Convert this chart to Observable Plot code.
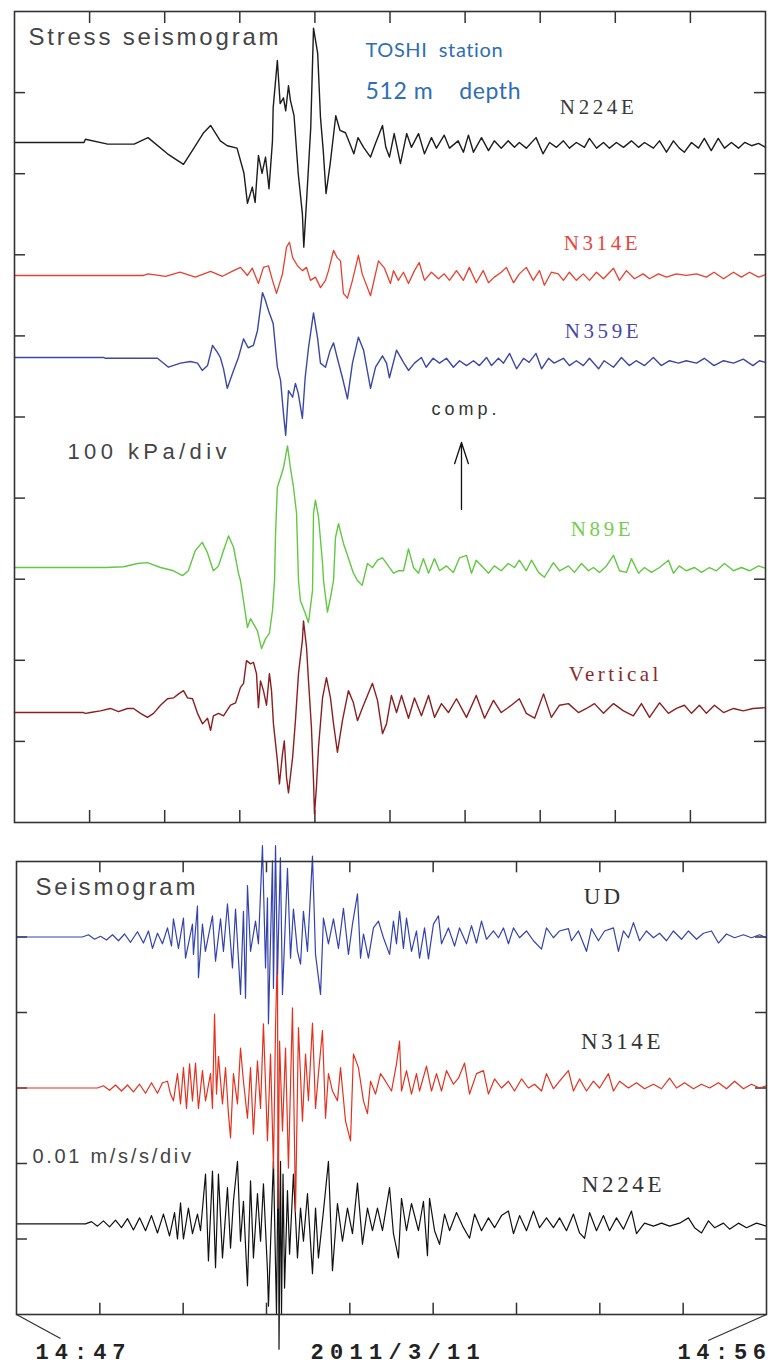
<!DOCTYPE html>
<html><head><meta charset="utf-8">
<script src="https://cdn.jsdelivr.net/npm/d3@7"></script>
<script src="https://cdn.jsdelivr.net/npm/@observablehq/plot@0.6"></script>
<style>
html,body{margin:0;padding:0;background:#fff;}
#wrap{position:relative;width:772px;height:1367px;overflow:hidden;background:#fff;}
#wrap svg{position:absolute;left:0;overflow:visible;}
</style></head><body><div id="wrap"></div>
<script>
// ---- Stress seismograms, TOSHI station 512 m depth: [seconds after 14:47, kPa]
const stressN224E = [[0,0],[50,0],[51,4],[67,-2],[86,-2],[96,6],[110,-14],[121.5,-27],[129,-7],[136,12],[141,21],[148,2],[153,-4],[160,-7],[165,-38],[167.5,-75],[171,-55],[173,-74],[175.4,-16],[178,-38],[180.5,-18],[183,-57],[185.5,2],[186,43],[189,101],[191,48],[193.4,55],[195,39],[197,70],[198.4,52],[201,33],[204,-38],[207,-88],[208,-129],[210,-72],[213,18],[215,141],[218,110],[220,31],[222,-10],[224,-63],[227,-26],[231,33],[234,15],[238,12],[244,-14],[247,6],[251,-6],[256,-18],[259.6,-1],[264.6,21],[267,-6],[269.6,-18],[273,11],[277.5,-26],[282,11],[285.4,-6],[290.5,11],[294.8,-14],[299.8,6],[303.4,-7],[309,9],[312.8,-7],[319,2],[322.8,-12],[326.4,9],[330,-12],[335.8,6],[340.8,-10],[345,2],[350,-7],[355,2],[359.5,-6],[363,0],[368,-7],[375,6],[380,-14],[384.7,0],[389.7,-6],[394.7,2],[399,-7],[404,0],[409.8,-6],[413.4,5],[418.5,-7],[423.5,0],[427.8,-7],[432.8,0],[437.9,-6],[443.6,2],[448.7,-6],[453,0],[459.4,-7],[463.8,2],[468.8,-12],[473.8,2],[478,-7],[481.7,-12],[486.8,0],[491.8,-7],[496,5],[501,-10],[506,5],[510.5,-7],[515.5,0],[520.6,-7],[525,0],[530,-4],[535,-1],[540,-6]];
const stressN314E = [[0,0],[92.8,0],[96,2],[108.6,-1],[119,4],[130,-2],[141,5],[149.5,-1],[157.5,6],[162.5,10],[167.5,0],[171,9],[175.4,-10],[179,10],[182.6,12],[185.5,-6],[188.4,-22],[192.7,2],[195.6,35],[197.7,41],[200,22],[203.5,12],[207,6],[210,10],[212.8,-6],[216.4,-2],[220,-15],[223.6,-6],[225.8,6],[229.4,31],[232,22],[234.4,18],[236.5,-22],[239.4,-28],[243,-6],[247.3,25],[250,2],[256,-25],[261.7,18],[266,9],[270.3,-10],[272.5,6],[276,-6],[279.7,4],[283.3,-10],[287.6,6],[291,16],[294.8,-6],[299.8,4],[304.9,-4],[309,2],[312.8,-6],[317.8,6],[322.8,-6],[327,10],[332,-9],[337,6],[340.8,-9],[345,-2],[350,4],[353.7,10],[358.8,-9],[363,2],[368,10],[373,-6],[377.5,6],[381,-12],[386,4],[391,2],[394.7,-6],[399,4],[404,-6],[409,2],[413.4,-6],[418.5,4],[423.5,-4],[430.7,9],[435,-6],[440,6],[445.8,-4],[452,2],[456.6,-4],[463,2],[468.8,-2],[476,2],[483,0],[490.4,2],[497.5,-2],[503,4],[509.8,-4],[517,4],[522.7,-2],[528.5,4],[535,-2],[540,1]];
const stressN359E = [[0,0],[64,0],[65.4,-1],[102.8,-1],[110.7,-12],[119.4,-7],[126.5,-5],[131.6,-7],[135,-16],[138.8,-10],[142.4,15],[146,6],[148,0],[150.3,-14],[153,-38],[157.5,-16],[161,0],[164.7,23],[168,12],[171.8,15],[174.7,33],[178.3,80],[180.5,70],[182.6,58],[186,42],[189,-12],[191.3,-28],[193.4,-69],[195,-96],[197,-41],[200,-49],[202,-32],[204,-44],[207,-75],[209,-25],[211.4,12],[215,55],[218,23],[220,-7],[223.6,-12],[227,9],[229.4,18],[232,0],[235.8,-25],[239.4,-51],[243,-7],[247.3,25],[251,9],[256,-38],[259.6,-12],[264.6,2],[267.5,-7],[269.6,-25],[274.7,9],[279.7,-6],[283.3,-16],[287.6,-7],[292.6,0],[296,-12],[301,-1],[305.6,-7],[310.6,-1],[315.6,-12],[320,-4],[325,-10],[330,-4],[334.3,-10],[339.4,0],[343,-10],[348,-1],[351.6,-7],[356,5],[361,-14],[366,-1],[370,-6],[375,5],[379,-14],[384,-1],[388,-7],[394.7,-1],[399,-10],[404,-4],[409,-10],[413.4,-1],[420,-14],[424,-4],[430.7,-12],[436.4,0],[442,-10],[447,-4],[453,-10],[459.4,0],[465,-10],[471,-4],[477.4,-7],[483,-4],[490.4,-7],[496,-1],[503,-10],[509.8,-4],[517,-7],[524,-2],[531,-10],[535.6,-4],[540,-6]];
const stressN89E = [[0,0],[65.4,0],[78.4,1],[88.4,5],[95.6,6],[105,0],[114.3,-4],[120.8,-10],[125,-4],[130,21],[135,31],[138.8,18],[143,-4],[146.7,2],[150.3,21],[153.9,39],[157.5,25],[161,-7],[162.5,-16],[167.5,-74],[169.7,-63],[174.7,-78],[177.6,-100],[180.5,-88],[183.3,-81],[185.5,-53],[187,-16],[187.7,42],[189,99],[191.3,111],[193.4,123],[196.3,150],[198.4,123],[200.6,99],[202.8,67],[204.2,-16],[205.6,-41],[209.2,-57],[211.4,-68],[214.3,-28],[215,67],[216.4,83],[218.6,62],[221.5,5],[222.2,-16],[225,-55],[227.2,-37],[229.4,-16],[230.8,37],[233,54],[236.5,30],[240,12],[243.7,-7],[246.6,-16],[250,-22],[253.8,5],[257.4,0],[261,9],[264.6,12],[267.5,5],[272.5,-7],[276,-4],[279.7,-4],[283.3,23],[286.9,0],[290.5,-7],[294,11],[297.7,-7],[302,11],[305.6,-4],[310.6,2],[315.6,-6],[320,12],[325,15],[328.6,-7],[332,9],[337,0],[340.8,-7],[345,2],[350,-4],[355,5],[359.5,0],[363,9],[368,-4],[371.7,9],[376.8,-6],[381,-12],[387.5,6],[391.9,-4],[398.3,2],[402.6,-6],[407.7,5],[412.7,-4],[416.3,0],[420.6,-6],[425.6,2],[430.7,15],[435,-4],[440,-6],[443.6,11],[448.7,-7],[453,0],[458,-6],[463.8,0],[470.2,9],[473.8,-7],[478,2],[483,-4],[489,0],[494,-6],[499.7,0],[504.7,-4],[510.5,5],[517,-4],[522.7,0],[528.5,-4],[535,2],[540,-1]];
const stressVertical = [[0,0],[49.6,0],[51,-1],[54.6,0],[61.8,2],[69,5],[74.8,1],[81.2,5],[85.6,5],[90.6,-1],[95.6,-6],[100,-1],[105,9],[110,17],[114.3,18],[118,23],[121.5,27],[124.4,18],[128,17],[131.6,-1],[135.2,-14],[138.8,-7],[141,-22],[143,-4],[146.7,-1],[150.3,-4],[155.3,9],[159,12],[162.5,31],[164.7,36],[166.8,64],[169.7,60],[171.8,62],[174,48],[175.4,6],[176.9,39],[179,27],[181.2,9],[183.3,48],[184.8,27],[186.2,-14],[189,-59],[190.5,-88],[192.7,-51],[194,-35],[195.6,-80],[197,-99],[200,-55],[202,-10],[204.2,48],[207,89],[207.8,113],[210,80],[211.4,39],[213.5,-18],[215,-84],[215.7,-125],[217.1,-92],[218.6,-43],[221.5,18],[224.3,43],[227.2,18],[229.4,-14],[232.2,-49],[235.8,-10],[240.1,27],[243.7,12],[246.6,-10],[250.2,6],[253.8,21],[257.4,36],[261,15],[264.6,-26],[267.5,-14],[271,21],[274.7,0],[278.3,21],[283.3,-7],[287.6,18],[292.6,-4],[297.7,21],[302,-6],[307,11],[312,0],[317.8,17],[325,-6],[332,21],[338,-7],[344.4,15],[350,0],[357.3,9],[363,17],[368,-1],[374,-7],[380.4,23],[386,-6],[391.9,9],[398.3,11],[405.5,0],[411.3,5],[417,11],[423.5,-1],[430.7,11],[437.9,2],[445,-4],[450.8,11],[456.6,-6],[463.8,12],[470.2,-1],[476,5],[481.7,9],[486.8,-1],[492.5,9],[497.5,-1],[503.3,9],[509.8,0],[517,5],[524,2],[531,5],[540,6]];

// ---- Acceleration seismograms: [seconds after 14:47, mm/s^2]
const accUD = [[0,0],[47.5,0],[51.8,0.3],[56.2,-0.3],[60.5,0.1],[64.8,-0.4],[69.1,0.3],[73.4,-0.5],[77.8,0.4],[82.1,-0.7],[87.1,0.7],[91.4,-0.8],[95,0.8],[97.9,-1.5],[101.5,0.5],[105.1,-0.9],[108.7,1.2],[111.6,-1.2],[113,2.4],[116.6,-1.5],[120.2,2.5],[121.7,-2.8],[126.7,1.7],[127.4,-2.3],[130.3,4.1],[131,-5.4],[133.9,1.7],[136,-1.9],[141.1,2.8],[143.3,-3.2],[146.9,2.4],[149,-1.9],[151.9,4.4],[155.5,-4.1],[157.7,3.7],[161.3,-7.6],[163.4,3.4],[164.9,-8.1],[166.3,6.8],[168.5,-1.9],[172.1,2.1],[174.2,-0.9],[177.1,12.1],[179.3,-4.1],[180.7,5.2],[181.4,-11.5],[184.3,10.1],[185,-6.8],[186.5,12.1],[187.9,-4.9],[190,10.5],[191.5,-7.6],[195.1,9.1],[197.3,-2.8],[199.4,3.7],[202.3,-1.9],[204.5,-3.6],[206.6,3.4],[209.5,-1.9],[213.1,10.7],[215.3,-2.3],[218.9,-7.6],[221,2.5],[224.6,-0.9],[228.2,2.4],[231.8,-1.5],[235.4,3.8],[239,-2.3],[241.9,1.7],[245.5,5.7],[247.7,-2.8],[249.8,0.4],[253.4,-2.8],[257,1.2],[260.6,2.1],[264.2,-0.1],[268.6,-2.3],[271.4,2.1],[273.6,-0.9],[275.8,3.4],[278.6,-1.5],[280.8,2.5],[284.4,-1.9],[288,0.8],[290.2,-2.8],[293.8,1.2],[296.6,-2.9],[300.2,1.7],[303.8,2.8],[306,-0.9],[311,1.2],[315.4,-1.2],[319,1.2],[324,-0.9],[327.6,1.5],[331.2,-0.8],[334.8,2.1],[338.4,-0.3],[343.4,0.8],[347,-0.1],[350.6,1.2],[354.2,-0.9],[357.8,1.2],[362.2,-0.1],[367.2,0.8],[372.2,-0.5],[378,-1.6],[381.6,1.2],[386.6,-0.1],[391,0.8],[397.4,1.1],[399.6,-0.5],[404.6,0.8],[410.4,-1.9],[414,1.1],[419,-0.5],[423.4,0.8],[429.8,1.2],[433.4,-1.9],[437,0.8],[440.6,-0.1],[444.2,1.9],[448.6,-0.5],[453.6,0.8],[458.6,-0.1],[463,0.5],[468,-0.5],[473,0.8],[478.8,-0.3],[483.8,0.8],[489.6,-0.3],[494.6,0.5],[500.4,0.8],[505.4,-0.8],[511.2,0.4],[517,-0.1],[523.4,0.3],[529.2,-0.1],[535,0.3],[540,-0.1]];
const accN314E = [[0,0],[58.3,0],[62.6,0.3],[67,-0.3],[71.3,0.4],[75.6,-0.4],[79.9,0.4],[84.2,-0.5],[88.6,0.5],[92.9,-0.7],[97.2,0.7],[101.5,-0.7],[105.1,0.7],[108.7,0.9],[110.9,-0.8],[113,-1.7],[115.9,1.9],[118.1,-2.1],[120.2,2.7],[122.4,-2.7],[124.6,3.2],[126.7,-1.7],[128.9,3.3],[131,-2.7],[133.9,2.3],[136.1,-1.7],[139.7,1.9],[141.1,-2.7],[142.6,9.8],[144,-0.8],[145.4,4.2],[148.3,-2.1],[150.5,2.7],[152.6,-3.4],[154.1,-6.6],[156.2,1.9],[159.1,-2.1],[161.3,5.3],[163.4,0.9],[166.3,-4],[168.5,2.7],[170.6,-6.1],[173.5,3.6],[175.7,-2.7],[177.8,8.5],[180.7,-7],[182.9,4.5],[185,-10.6],[186.5,8],[187.9,18.8],[188.3,-15.9],[189.4,6.2],[191.5,-5.7],[193.7,5.3],[195.8,-10.6],[198.7,10.6],[200.9,-16.3],[203,8],[205.9,-4.4],[208.1,4.5],[210.2,-1.7],[213.1,8.6],[215.3,-2.7],[217.4,1.9],[220.3,7.6],[222.5,-4],[224.6,1.9],[227.5,-0.4],[231.1,-1.7],[233.3,2.7],[236.9,-4.4],[240.5,-7],[242.6,4.5],[246.2,2.7],[249.8,-1.7],[252.7,-3.4],[254.9,0.9],[258.5,-0.8],[262.1,1.9],[265.7,0.9],[270,-0.4],[273.6,3.2],[275.8,6.2],[277.2,-0.4],[280.8,2.3],[284.4,-0.8],[288,1.9],[290.2,-0.4],[295.2,2.9],[298.8,-0.4],[302.4,1.9],[306,-0.4],[309.6,2.3],[314.6,0.5],[318.2,1.3],[322.6,3.3],[326.2,-0.8],[331.2,1.9],[336.2,2.3],[339.8,-0.8],[344.2,1.2],[349.2,0],[354.2,0.9],[358.6,-0.4],[363.6,1.2],[368.6,0],[373,0.5],[378,-0.4],[381.6,1.9],[386.6,-0.1],[391,0.9],[397.4,2.3],[401,-0.4],[405.4,1.2],[410.4,-0.4],[415.4,0.9],[419.8,0],[426.2,1.9],[429.8,-0.4],[434.2,0.9],[440.6,0],[446.4,0.7],[452.2,-0.1],[458.6,0.5],[464.4,-0.1],[470.2,1.3],[475.2,0],[481,0.7],[487.4,-0.1],[493.2,0.5],[499,0],[505.4,0.7],[511.2,-0.1],[517,0.9],[523.4,-0.1],[529.2,0.5],[535,0],[540,0.3]];
const accN224E = [[0,0],[49.7,0],[54,0.3],[58.3,-0.3],[62.6,0.4],[67,-0.4],[71.3,0.5],[75.6,-0.5],[79.9,0.7],[84.2,-0.8],[88.6,0.8],[92.9,-0.9],[97.2,1.1],[101.5,-1.2],[105.8,1.3],[110.2,-1.6],[113.8,1.5],[115.9,-2],[118.1,2.8],[120.2,-2],[123.8,2.1],[126.7,-1.3],[130.3,1.3],[132.5,-0.9],[136.1,6.6],[138.2,-4.9],[141.1,7],[143.3,-5.8],[145.4,6.6],[148.3,-4.5],[151.9,4.8],[154.1,-3.2],[156.2,3],[159.1,8.3],[161.3,-2.3],[163.4,3],[166.3,-8.2],[168.5,5.7],[170.6,-4.5],[173.5,4],[175.7,-2.3],[177.8,5.3],[180.7,-6.2],[181.4,-10.9],[184.3,4.8],[185,8.3],[187.2,-11.9],[188.6,11.9],[189,-16.6],[190.1,8.3],[190.8,-11.9],[191.9,6.6],[193,-8.5],[195.1,4.4],[196.6,-4],[199.4,6.6],[202.3,-4.5],[204.5,2.1],[206.6,-2.3],[209.5,4],[213.1,-6.6],[215.3,2.1],[217.4,-4.5],[221,1.7],[224.6,8.3],[227.5,-6.2],[231.1,2.7],[234.7,-2.3],[238.3,2.1],[241.9,-1.3],[245.5,5.4],[249.1,-2.7],[252.7,2.1],[256.3,-0.9],[259.9,2.1],[263.5,-0.9],[268.6,4.8],[271.4,-1.3],[275,-4.5],[277.2,3.4],[280.8,-0.9],[284.4,2.7],[289.4,-0.9],[293,3],[295.9,-4.2],[297.4,3.4],[301,-0.9],[304.6,-2.7],[308.2,1.3],[311.8,-0.9],[316.8,1.5],[321.8,-0.5],[326.2,-1.9],[329.8,1.3],[334.8,-0.9],[339.8,0.8],[344.2,-0.5],[349.2,1.1],[354.2,1.7],[357.8,-1.3],[362.2,1.1],[367.2,-0.9],[372.2,1.7],[376.6,-0.5],[381.6,0.8],[386.6,-0.5],[391,0.8],[396,-0.9],[401,1.3],[405.4,-1.2],[409,-1.9],[412.6,1.5],[417.6,-0.9],[422.6,1.1],[427,-0.9],[432,0.8],[437,-0.7],[442.8,1.7],[446.4,-1.3],[452.2,0.1],[458.6,-0.3],[464.4,0.1],[470.2,-0.3],[477.4,0.1],[483.8,0.8],[488.2,-0.5],[493.2,-1.2],[498.2,0.4],[502.6,-0.5],[509,0.1],[513.4,-0.7],[519.8,0.1],[525.6,-0.5],[532.8,0.1],[540,-0.3]];

// ---- tick values
const stressTimeTicks = [54,108,162,216,270,324,378,432,486];
const stressDivTicks = [100,200,300,400,500,600,700,800,900];
const accTimeTicks = [60,120,180,240,300,360,420,480];
const accDivTicks = [10,20,30,40,50];
const timeLabels = ["14:47","2011/3/11","14:56"];

const FRAME = "#333";
const sans = "'Liberation Sans', Arial, sans-serif";
const serif = "'Liberation Serif', 'Times New Roman', serif";
const mono = "'Liberation Mono', 'Courier New', monospace";
const calibri = "Lato, 'Open Sans', sans-serif";

function trace(data, offset, color, sw) {
  return Plot.line(data, {x: d => d[0], y: d => d[1] + offset, stroke: color, strokeWidth: sw, strokeLinejoin: "round"});
}
function label(txt, x, y, opts) {
  return Plot.text([txt], Object.assign({x, y, text: d => d, lineAnchor: "bottom"}, opts));
}

const topPlot = Plot.plot({
  width: 772, height: 840,
  marginLeft: 14, marginRight: 7, marginTop: 11, marginBottom: 18,
  x: {domain: [0, 540], axis: null},
  y: {domain: [0, 1000], axis: null},
  style: {background: "transparent", overflow: "visible"},
  marks: [
    Plot.ruleY(stressDivTicks, {y: d => d, x1: 0, x2: 7.9, stroke: FRAME, strokeWidth: 1.5}),
    Plot.ruleY(stressDivTicks, {y: d => d, x1: 532.1, x2: 540, stroke: FRAME, strokeWidth: 1.5}),
    Plot.ruleX(stressTimeTicks, {x: d => d, y1: 1000, y2: 985.2, stroke: FRAME, strokeWidth: 1.5}),
    Plot.ruleX(stressTimeTicks, {x: d => d, y1: 0, y2: 14.8, stroke: FRAME, strokeWidth: 1.5}),
    trace(stressN224E, 838.5, "#1c1c1c", 1.4),
    trace(stressN314E, 674.5, "#e8402f", 1.3),
    trace(stressN359E, 573.4, "#3b47a6", 1.4),
    trace(stressN89E, 314.4, "#62c842", 1.4),
    trace(stressVertical, 135.6, "#8b1f1f", 1.4),
    Plot.frame({stroke: FRAME, strokeWidth: 1.6}),
    label("Stress seismogram", 10, 959, {textAnchor: "start", fontFamily: sans, fontSize: 24, fill: "#444"}),
    label("TOSHI\u00a0 station", 252.4, 944.5, {textAnchor: "start", fontFamily: calibri, fontSize: 20, fill: "#2e6eb6"}),
    label("512 m\u00a0\u00a0\u00a0 depth", 252.4, 891.5, {textAnchor: "start", fontFamily: calibri, fontSize: 23, fill: "#2e6eb6"}),
    label("N224E", 420, 873, {fontFamily: serif, fontSize: 21, fill: "#3a3a3a"}),
    label("N314E", 422.8, 706.5, {fontFamily: serif, fontSize: 21, fill: "#e8453c"}),
    label("N359E", 423.5, 596.8, {fontFamily: serif, fontSize: 21, fill: "#4848a8"}),
    label("N89E", 422.8, 352.7, {fontFamily: serif, fontSize: 21, fill: "#78cc50"}),
    label("Vertical", 432, 175, {fontFamily: serif, fontSize: 21, fill: "#8a2b2b"}),
    label("100 kPa/div", 38.1, 447.6, {textAnchor: "start", fontFamily: sans, fontSize: 22, fill: "#444"}),
    label("comp.", 299.8, 503, {textAnchor: "start", fontFamily: sans, fontSize: 18, fill: "#333"}),
    Plot.arrow([0], {x1: 321.4, y1: 386, x2: 321.4, y2: 468.6, stroke: "#111", strokeWidth: 1.3, headLength: 26, headAngle: 36})
  ]
});

const botPlot = Plot.plot({
  width: 772, height: 527,
  marginLeft: 16, marginRight: 6, marginTop: 21, marginBottom: 53,
  x: {domain: [0, 540], axis: null},
  y: {domain: [0, 60], axis: null},
  style: {background: "transparent", overflow: "visible"},
  marks: [
    Plot.ruleY(accDivTicks, {y: d => d, x1: 0, x2: 7.9, stroke: FRAME, strokeWidth: 1.5}),
    Plot.ruleY(accDivTicks, {y: d => d, x1: 532.1, x2: 540, stroke: FRAME, strokeWidth: 1.5}),
    Plot.ruleX(accTimeTicks, {x: d => d, y1: 60, y2: 58.5, stroke: FRAME, strokeWidth: 1.5}),
    Plot.ruleX(accTimeTicks, {x: d => d, y1: 0, y2: 1.5, stroke: FRAME, strokeWidth: 1.5}),
    trace(accN224E, 12, "#111", 1.2),
    trace(accN314E, 30, "#e2321f", 1.2),
    trace(accUD, 50, "#3343ad", 1.2),
    Plot.frame({stroke: FRAME, strokeWidth: 1.6}),
    Plot.link([0], {x1: 0, y1: 0, x2: 31.7, y2: -3.18, stroke: FRAME, strokeWidth: 1.3}),
    Plot.link([0], {x1: 540, y1: 0, x2: 498, y2: -3.44, stroke: FRAME, strokeWidth: 1.3}),
    label("Seismogram", 13.7, 55.5, {textAnchor: "start", fontFamily: sans, fontSize: 24, fill: "#444"}),
    label("0.01 m/s/s/div", 11.5, 20.1, {textAnchor: "start", fontFamily: sans, fontSize: 20, fill: "#444"}),
    label("UD", 422.6, 54.4, {fontFamily: serif, fontSize: 23, fill: "#333"}),
    label("N314E", 436.3, 35.1, {fontFamily: serif, fontSize: 23, fill: "#333"}),
    label("N224E", 437, 16.2, {fontFamily: serif, fontSize: 23, fill: "#333"}),
    label(timeLabels[0], 13.7, -5.83, {textAnchor: "start", fontFamily: mono, fontWeight: "bold", fontSize: 22, fill: "#222"}),
    label(timeLabels[1], 211.7, -5.9, {textAnchor: "start", fontFamily: mono, fontWeight: "bold", fontSize: 22, fill: "#222"}),
    label(timeLabels[2], 475.9, -5.96, {textAnchor: "start", fontFamily: mono, fontWeight: "bold", fontSize: 22, fill: "#222"})
  ]
});

const spacingMap = {
  "Stress seismogram": 2.8, "Seismogram": 2.8, "100 kPa/div": 4.4, "0.01 m/s/s/div": 2.7, "comp.": 4,
  "N224E": 3.6, "N314E": 3.6, "N359E": 3.6, "N89E": 3.6, "Vertical": 3.5, "UD": 3,
  "TOSHI\u00a0 station": 0.6, "512 m\u00a0\u00a0\u00a0 depth": 0.6,
  "14:47": 6, "2011/3/11": 6.3, "14:56": 5.6
};
function applySpacing(svg) {
  d3.select(svg).selectAll("text").each(function () {
    const s = spacingMap[this.textContent];
    if (s !== undefined) this.setAttribute("letter-spacing", s + "px");
  });
}
applySpacing(topPlot); applySpacing(botPlot);
const wrap = document.getElementById("wrap");
topPlot.style.top = "0px";
botPlot.style.top = "840px";
wrap.appendChild(topPlot);
wrap.appendChild(botPlot);
</script></body></html>
